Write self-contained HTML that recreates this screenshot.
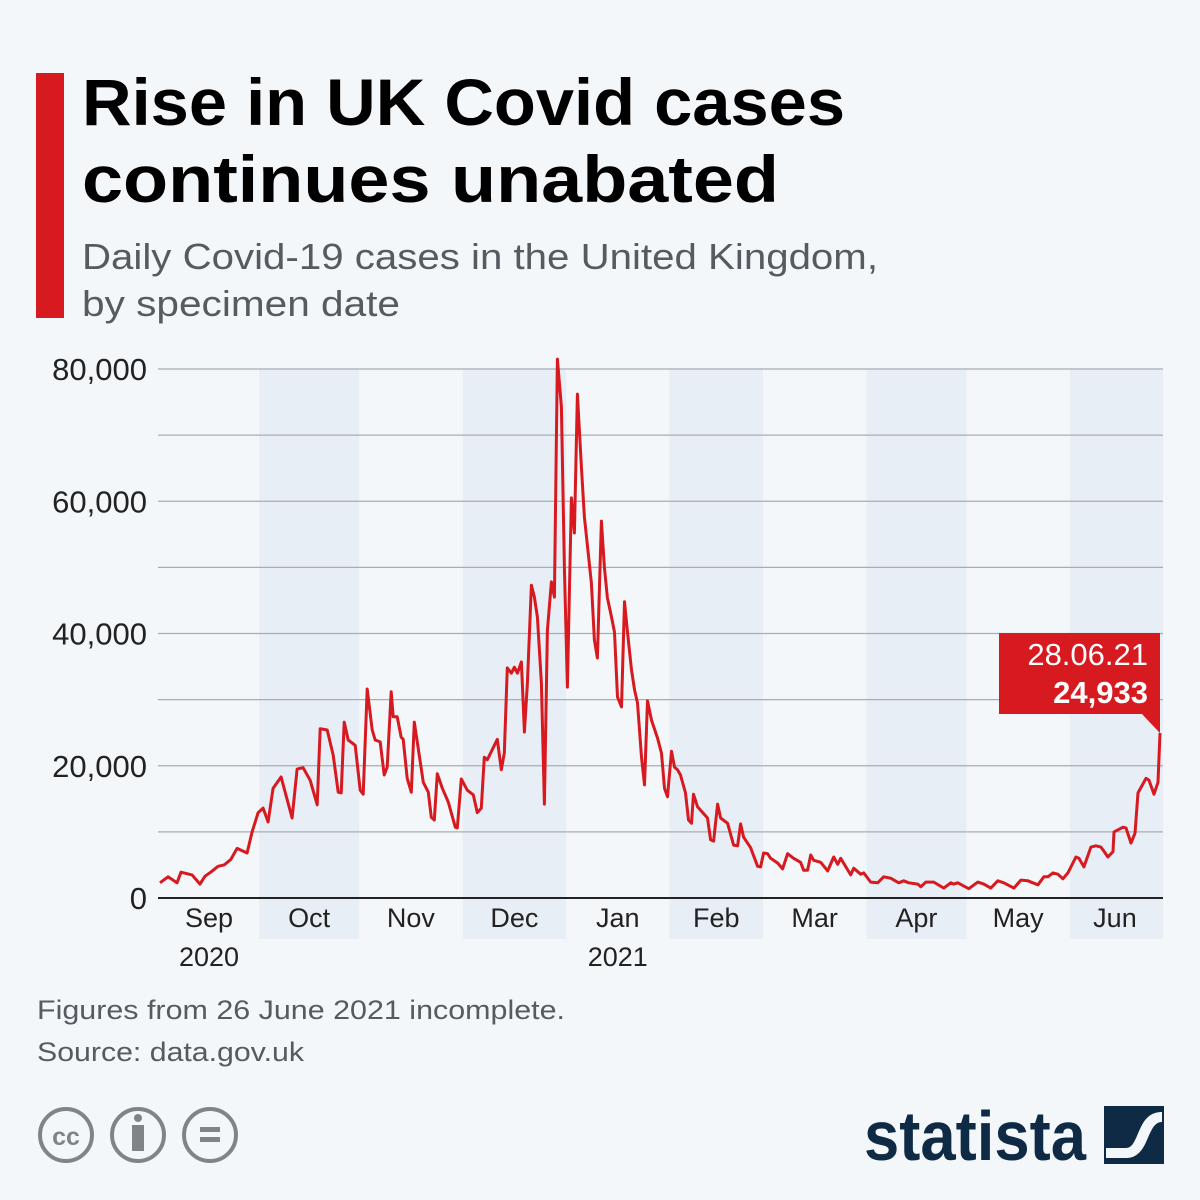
<!DOCTYPE html>
<html><head><meta charset="utf-8"><style>
html,body{margin:0;padding:0;background:#f3f7fa;}
svg{display:block;font-family:"Liberation Sans",sans-serif;}
</style></head><body>
<svg id="chart" width="1200" height="1200" viewBox="0 0 1200 1200">
<rect x="0" y="0" width="1200" height="1200" fill="#f3f7fa"/>
<rect x="36" y="73" width="28" height="245" fill="#d71920"/>
<text x="82" y="125" font-size="66" font-weight="bold" fill="#000" textLength="763" lengthAdjust="spacingAndGlyphs">Rise in UK Covid cases</text>
<text x="82" y="202" font-size="66" font-weight="bold" fill="#000" textLength="697" lengthAdjust="spacingAndGlyphs">continues unabated</text>
<text x="82" y="269" font-size="36" fill="#555b60" textLength="796" lengthAdjust="spacingAndGlyphs">Daily Covid-19 cases in the United Kingdom,</text>
<text x="82" y="316" font-size="36" fill="#555b60" textLength="318" lengthAdjust="spacingAndGlyphs">by specimen date</text>
<g id="bands"></g>
<g id="grid"></g>
<g id="yticks"></g>
<g id="xticks"></g>
<path id="line" fill="none" stroke="#d71920" stroke-width="3" stroke-linejoin="round"/>
<g id="callout"></g>
<text x="37" y="1019" font-size="27" fill="#555b60" textLength="528" lengthAdjust="spacingAndGlyphs">Figures from 26 June 2021 incomplete.</text>
<text x="37" y="1061" font-size="27" fill="#555b60" textLength="267" lengthAdjust="spacingAndGlyphs">Source: data.gov.uk</text>
<g fill="none" stroke="#7f8487" stroke-width="4">
<circle cx="66" cy="1135" r="26"/><text x="66" y="1145" font-size="25" font-weight="bold" fill="#7f8487" stroke="none" text-anchor="middle">cc</text></g>
<g fill="none" stroke="#7f8487" stroke-width="4">
<circle cx="138" cy="1135" r="26"/><circle cx="138" cy="1118" r="4" fill="#7f8487" stroke="none"/><rect x="132" y="1125" width="12" height="26" fill="#7f8487" stroke="none"/></g>
<g fill="none" stroke="#7f8487" stroke-width="4">
<circle cx="210" cy="1135" r="26"/><rect x="200" y="1127" width="20" height="5" fill="#7f8487" stroke="none"/><rect x="200" y="1137" width="20" height="5" fill="#7f8487" stroke="none"/></g>
<text x="864" y="1160" font-size="70" font-weight="bold" fill="#0f2a44" textLength="222" lengthAdjust="spacingAndGlyphs">statista</text>
<g>
<rect x="1104" y="1106" width="60" height="58" fill="#0f2a44"/>
<path d="M1106 1148 L1126 1148 C1140 1148 1136 1112 1162 1112 L1162 1122 C1146 1122 1150 1158 1126 1158 L1106 1158 Z" fill="#f3f7fa"/>
</g>
</svg>
<script>
const days=[0.3,2.7,5.4,6.6,9.9,12.3,13.8,15.5,17.7,19.5,21.5,23.4,26.4,27.9,29.7,31.2,32.7,34.2,36.6,39.9,41.4,43.2,45.3,47.4,48.3,50.4,52.2,53.7,54.6,55.5,56.7,58.8,60.3,61.2,62.4,63.9,64.8,66.3,67.5,68.4,69.6,70.2,71.4,72.6,73.2,74.4,75.6,76.5,79.2,80.7,81.6,82.5,83.4,84.9,86.7,88.8,89.4,90.6,92.4,94.2,95.4,96.6,97.5,98.4,101.4,102.6,103.5,104.4,105.6,106.5,107.4,108.6,109.5,110.4,111.6,112.5,113.4,114.6,115.5,116.4,117.6,118.5,119.4,120.6,121.5,122.4,123.6,124.5,125.4,126.6,127.5,129.6,130.5,131.4,132.6,133.5,134.4,135.6,136.5,137.4,138.6,139.5,140.4,141.6,142.5,143.4,144.6,145.5,146.4,147.6,149.4,150.6,151.5,152.4,153.6,154.5,155.4,156.3,157.8,158.7,159.6,160.2,161.4,164.4,165.3,166.2,167.4,168.3,170.4,172.2,173.4,174.3,175.2,177.3,179.4,180.3,181.2,182.4,183.3,185.4,186.9,188.4,190.2,192.3,193.2,194.4,195.3,196.2,198.3,200.4,202.2,203.4,204.3,207.3,208.2,210.3,211.2,213.3,215.4,217.2,219.3,221.7,223.2,224.7,227.4,228.3,229.8,232.2,235.2,237.3,238.2,239.4,242.7,245.4,247.2,249.3,251.4,253.2,256.2,258.3,260.4,263.4,265.2,266.4,267.9,269.4,270.9,272.4,274.8,275.7,277.2,279.3,280.8,282.3,283.2,284.4,285.9,286.2,288.9,289.8,291.3,292.5,293.4,295.8,296.7,298.2,299.4,300];
const cases=[2.3,3.2,2.3,3.9,3.5,2.1,3.3,3.9,4.8,5.0,5.8,7.5,6.8,10,12.9,13.6,11.5,16.6,18.3,12.1,19.5,19.7,17.8,14.1,25.6,25.4,21.6,16,15.9,26.6,23.9,23.1,16.3,15.7,31.6,25.4,23.9,23.6,18.6,19.8,31.2,27.4,27.4,24.3,24,18.1,16,26.6,17.5,16,12.2,11.8,18.8,16.6,14.5,10.7,10.6,18,16.3,15.6,12.9,13.6,21.3,20.9,24,19.4,21.9,34.8,34,34.9,34,35.7,25.1,32.5,47.3,45.5,42.5,32.5,14.2,40.5,47.8,45.5,81.5,74.3,50,31.9,60.5,55.2,76.2,65.2,57.6,47.6,39,36.3,57,50,45.4,42.5,40.2,30.4,28.9,44.8,40.2,34.5,31.5,29.5,21.3,17.1,29.8,26.9,24.2,21.9,16.6,15.3,22.2,19.8,19.4,18.6,15.9,11.8,11.3,15.7,13.8,12.1,8.8,8.6,14.2,12.1,11.3,8,7.9,11.2,9.2,7.6,4.8,4.7,6.8,6.7,6,5.3,4.4,6.7,6,5.4,4.2,4.2,6.5,5.7,5.4,4.1,6.2,5.1,6,3.5,4.5,3.6,3.8,2.4,2.3,3.2,3,2.3,2.6,2.3,2.1,1.7,2.4,2.4,1.5,2.3,2.1,2.3,1.4,2.4,2.1,1.5,2.6,2.3,1.5,2.7,2.6,2,3.2,3.2,3.8,3.6,2.9,3.8,6.2,6,4.7,7.7,7.9,7.7,7.1,6.2,7,10,10.7,10.6,8.3,9.8,15.9,18.1,17.8,15.7,17.5,24.933];
const yTicks=[0,20000,40000,60000,80000];
const monthLabels=["Sep","Oct","Nov","Dec","Jan","Feb","Mar","Apr","May","Jun"];
const monthStarts=[0,30,60,91,122,153,181,212,242,273];
const yearLabels=["2020","2021"];
const lastDate="28.06.21";
const lastValue="24,933";

const NS="http://www.w3.org/2000/svg";
const x0=159,x1=1160,y0=898,y1=369;
const X=d=>x0+d/300*(x1-x0);
const Y=v=>y0-v/80000*(y0-y1);
function mk(tag,attrs,parent){const e=document.createElementNS(NS,tag);for(const k in attrs)e.setAttribute(k,attrs[k]);parent.appendChild(e);return e;}

const bands=document.getElementById('bands');
for(let i=1;i<monthStarts.length;i+=2){
  const end=i+1<monthStarts.length?X(monthStarts[i+1]):1163;
  const r=mk('rect',{x:X(monthStarts[i]),y:y1,width:end-X(monthStarts[i]),height:939-y1,fill:'#e8eef6'},bands);
  
  
}
const grid=document.getElementById('grid');
for(let v=10000;v<=80000;v+=10000){
  const l=mk('line',{x1:158,x2:1163,y1:Y(v),y2:Y(v),stroke:'#a9adb0','stroke-width':1.3},grid);
  
  
}
const ax=mk('line',{x1:158,x2:1163,y1:y0,y2:y0,stroke:'#222','stroke-width':2},grid);


const yt=document.getElementById('yticks');
yTicks.forEach(v=>{
  const t=mk('text',{x:147,y:Y(v)+11,'font-size':31,'text-anchor':'end',fill:'#222'},yt);
  t.textContent=v.toLocaleString('en-US');
  
  
});
const xt=document.getElementById('xticks');
monthLabels.forEach((m,i)=>{
  const end=i+1<monthStarts.length?monthStarts[i+1]:300;
  const t=mk('text',{x:X((monthStarts[i]+end)/2),y:927,'font-size':27,'text-anchor':'middle',fill:'#222'},xt);
  t.textContent=m;
  
  
});
[[0,yearLabels[0]],[4,yearLabels[1]]].forEach(([i,yl])=>{
  const end=monthStarts[i+1];
  const t=mk('text',{x:X((monthStarts[i]+end)/2),y:966,'font-size':27,'text-anchor':'middle',fill:'#222'},xt);
  t.textContent=yl;
  
  
});
let d='';
days.forEach((dd,i)=>{d+=(i?'L':'M')+X(dd).toFixed(1)+' '+Y(cases[i]*1000).toFixed(1);});
document.getElementById('line').setAttribute('d',d);

const co=document.getElementById('callout');
const px=X(days[days.length-1]),py=Y(cases[cases.length-1]*1000);
const bx=999,by=633,bw=px-bx,bh=81;
const box=mk('path',{d:`M${bx} ${by}H${px}V${py}L${px-18} ${by+bh}H${bx}Z`,fill:'#d71920'},co);


const t1=mk('text',{x:px-12,y:by+32,'font-size':31,'text-anchor':'end',fill:'#fff'},co);
t1.textContent=lastDate;


const t2=mk('text',{x:px-12,y:by+70,'font-size':31,'font-weight':'bold','text-anchor':'end',fill:'#fff'},co);
t2.textContent=lastValue;


</script>
</body></html>
